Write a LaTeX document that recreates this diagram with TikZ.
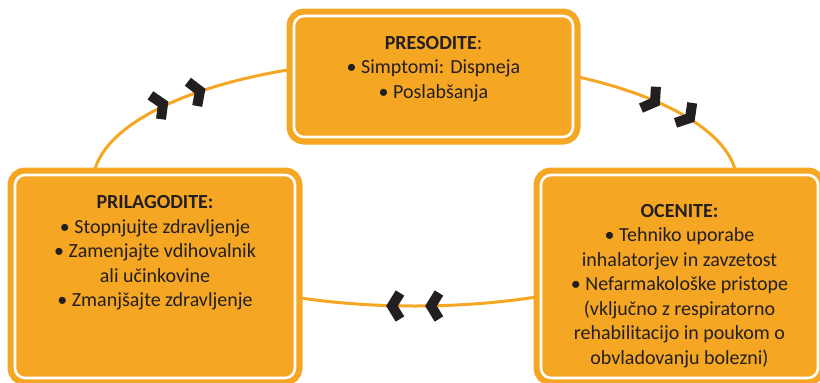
\documentclass[tikz,border=0pt]{standalone}
\usepackage{fontspec}
\setmainfont{Carlito}
\usetikzlibrary{positioning}
\definecolor{boxorange}{RGB}{245,166,35}
\definecolor{inkgray}{RGB}{35,31,32}

\begin{document}
\begin{tikzpicture}[x=0.5pt, y=0.5pt, font=\fontsize{10pt}{12.25pt}\selectfont, text=inkgray,
stage/.style={fill=boxorange, draw=white, line width=1.3pt, rounded corners=5pt, preaction={draw=boxorange, line width=7.5pt}},
txt/.style={align=center, inner sep=0pt},
ring/.style={draw=boxorange, line width=1.5pt},
chev/.style={draw=inkgray, line width=5pt, line join=miter}]
\useasboundingbox (0,0) rectangle (820,382);
\coordinate (ctr) at (415,199);
\draw[ring] (ctr) ellipse [x radius=161pt, y radius=61.5pt];
% chevrons on the ring, clockwise
\draw[chev, shift={(163,278)}, rotate=24] (-8,13) -- (0,0) -- (-8,-13);
\draw[chev, shift={(200,291)}, rotate=21] (-8,13) -- (0,0) -- (-8,-13);
\draw[chev, shift={(655,280)}, rotate=-35] (-8,13) -- (0,0) -- (-8,-13);
\draw[chev, shift={(690,264)}, rotate=-40] (-8,13) -- (0,0) -- (-8,-13);
\draw[chev, shift={(431,76)}, rotate=180] (-8,13) -- (0,0) -- (-8,-13);
\draw[chev, shift={(392,76)}, rotate=180] (-8,13) -- (0,0) -- (-8,-13);
% stages
\node[stage, minimum width=139.5pt, minimum height=60.5pt] (pres) at (433.5,305.5) {};
\node[stage, minimum width=140pt, minimum height=101.5pt] (pril) at (155,105.5) {};
\node[stage, minimum width=138.5pt, minimum height=101.5pt] (ocen) at (679.5,105.5) {};
\node[txt, below=10.5pt of pres.north] (presT) {\textbf{PRESODITE}:\\ • Simptomi: Dispneja\\ • Poslabšanja};
\node[txt, below=10.8pt of pril.north] (prilT) {\textbf{PRILAGODITE:}\\ • Stopnjujte zdravljenje\\ • Zamenjajte vdihovalnik\\ ali učinkovine\\ • Zmanjšajte zdravljenje};
\node[txt, below=15pt of ocen.north] (ocenT) {\textbf{OCENITE:}\\ • Tehniko uporabe\\ inhalatorjev in zavzetost\\ • Nefarmakološke pristope\\ (vključno z respiratorno\\ rehabilitacijo in poukom o\\ obvladovanju bolezni)};
\end{tikzpicture}
\end{document}
